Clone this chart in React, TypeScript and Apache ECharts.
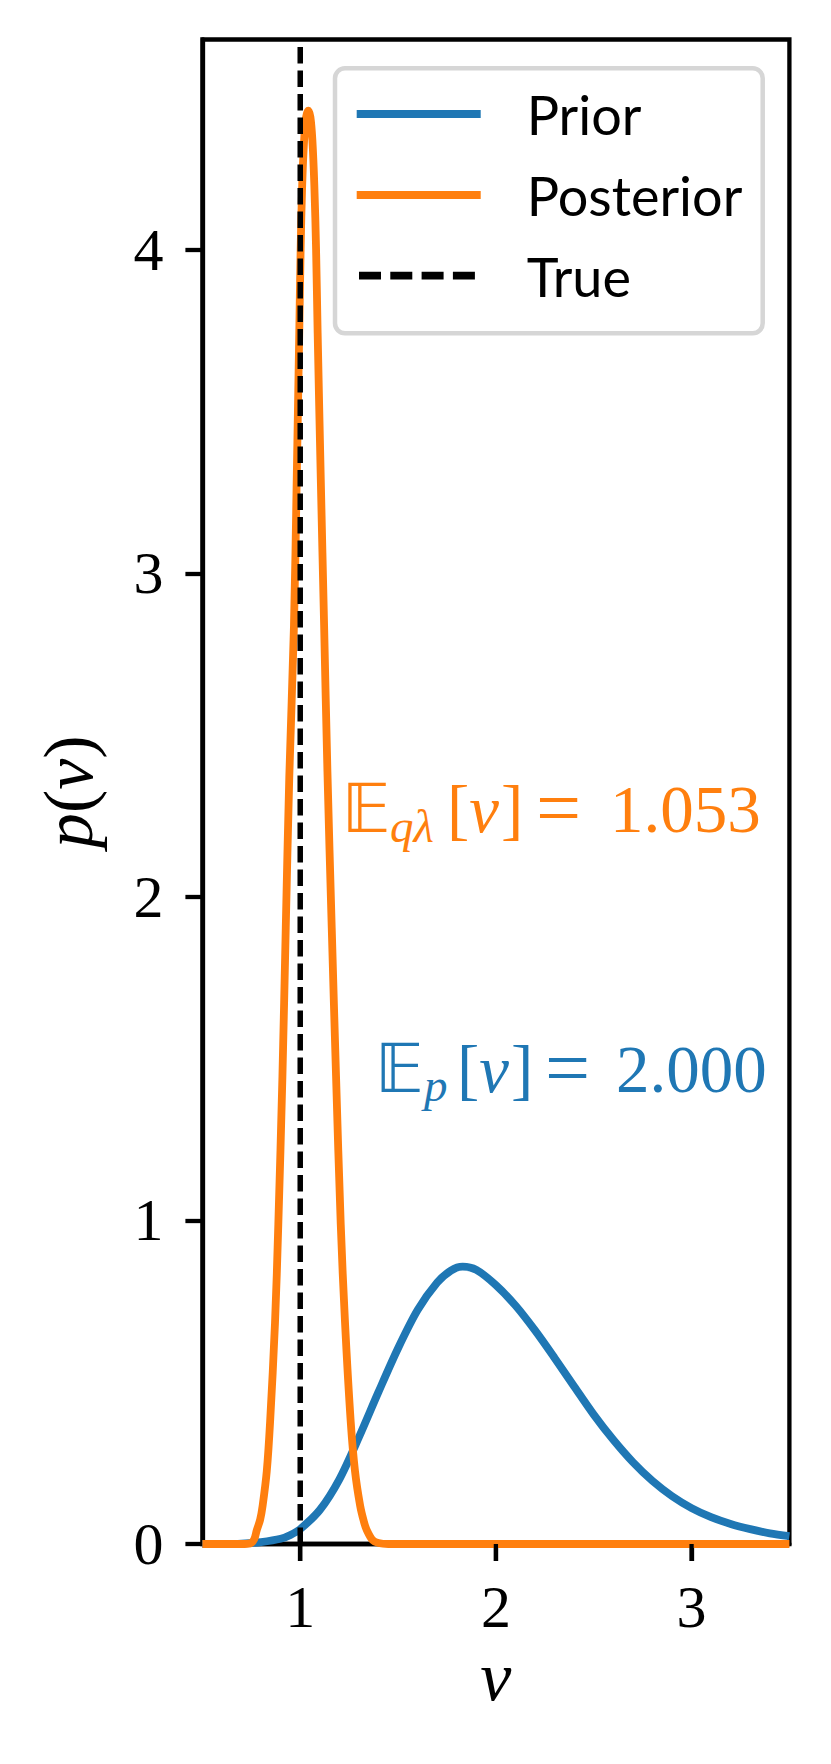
import React, { useEffect, useRef } from "react";
import * as echarts from "echarts";

// ---- data ----
const xRange = [0.5, 3.5];
const yRange = [0, 4.65];
const xTickValues = [1, 2, 3];
const yTickValues = [0, 1, 2, 3, 4];

const priorNu = [0.5, 0.6, 0.7, 0.8, 0.9, 0.95, 1.0, 1.1, 1.2, 1.3, 1.4, 1.5, 1.6, 1.7, 1.77, 1.83, 1.9, 2.0, 2.1, 2.2, 2.3, 2.4, 2.5, 2.6, 2.7, 2.8, 2.9, 3.0, 3.1, 3.2, 3.3, 3.4, 3.5];
const priorDensity = [0, 0, 0.001, 0.006, 0.016, 0.028, 0.046, 0.105, 0.2, 0.33, 0.47, 0.605, 0.723, 0.808, 0.845, 0.857, 0.847, 0.8, 0.737, 0.66, 0.575, 0.487, 0.4, 0.322, 0.253, 0.195, 0.148, 0.111, 0.083, 0.062, 0.046, 0.033, 0.024];

const posteriorNu = [0.5, 0.7, 0.745, 0.765, 0.778, 0.795, 0.808, 0.829, 0.846, 0.871, 0.888, 0.909, 0.926, 0.944, 0.968, 0.982, 0.995, 1.002, 1.01, 1.02, 1.03, 1.041, 1.052, 1.062, 1.072, 1.081, 1.089, 1.105, 1.122, 1.139, 1.161, 1.183, 1.207, 1.229, 1.258, 1.28, 1.306, 1.325, 1.34, 1.37, 1.4, 1.45, 3.5];
const posteriorDensity = [0, 0, 0.002, 0.015, 0.043, 0.075, 0.119, 0.225, 0.378, 0.683, 0.989, 1.446, 1.904, 2.37, 2.839, 3.291, 3.743, 4.0, 4.2, 4.34, 4.41, 4.43, 4.41, 4.34, 4.2, 4.0, 3.743, 3.291, 2.839, 2.387, 1.904, 1.446, 0.989, 0.683, 0.378, 0.225, 0.119, 0.07, 0.043, 0.012, 0.003, 0, 0];

const trueNu = 1;
const seriesNames = ["Prior", "Posterior", "True"];
const priorMeanText = "2.000";
const posteriorMeanText = "1.053";

const BLUE = "#1f77b4";
const ORANGE = "#ff7f0e";
const SERIF = "'Liberation Serif', 'DejaVu Serif', serif";
const SANS = "Lato, 'Noto Sans', sans-serif";
const BB = "'DejaVu Sans', 'DejaVu Serif', 'Noto Sans', sans-serif";
const CENTRAL = 0.3375; // em-box centre above baseline
const TICK_LEN = 17;
const LINE_W = 4.3;

function piece(text: string, x: number, baseline: number, size: number, color: string, family: string, italic = false) {
  return {
    type: "text",
    x,
    y: baseline - CENTRAL * size,
    z: 100,
    style: {
      text,
      fill: color,
      font: `${italic ? "italic " : ""}${size}px ${family}`,
      align: "left",
      verticalAlign: "middle",
    },
  };
}

function bracketNu(x: number, baseline: number, size: number, color: string) {
  return {
    type: "text",
    x,
    y: baseline - CENTRAL * size,
    z: 100,
    style: {
      text: "{r|[}{i|ν}{r|]}",
      fill: color,
      font: `${size}px ${SERIF}`,
      align: "left",
      verticalAlign: "middle",
      rich: {
        r: { fontFamily: SERIF, fontSize: size, fill: color, color },
        i: { fontFamily: SERIF, fontSize: size, fontStyle: "italic", fill: color, color, padding: [0, 2, 0, 0] },
      },
    },
  };
}

export default function App() {
  const ref = useRef<HTMLDivElement>(null);

  useEffect(() => {
    if (!ref.current) return;
    const chart = echarts.init(ref.current, undefined, { renderer: "svg" });

    const mainSize = 67;
    const subSize = 47;
    const oBase = 831.7;
    const bBase = 1091.7;

    const legendLineY = [114, 195, 275.7];
    const legendColors = [BLUE, ORANGE, "#000"];

    const graphic: any[] = [
      {
        type: "rect",
        z: 90,
        shape: { x: 335, y: 68.3, width: 427.7, height: 265, r: 10 },
        style: { fill: "rgba(255,255,255,0.8)", stroke: "#d6d6d6", lineWidth: 4.5 },
      },
      ...legendLineY.map((y, i) => ({
        type: "line",
        z: 95,
        shape: i === 2 ? { x1: 359, y1: y, x2: 475, y2: y } : { x1: 356.7, y1: y, x2: 480.7, y2: y },
        style: {
          stroke: legendColors[i],
          lineWidth: 7.8,
          lineDash: i === 2 ? [22, 9.3] : null,
          lineCap: "butt",
        },
      })),
      ...legendLineY.map((y, i) => ({
        type: "text",
        z: 95,
        x: 526.7,
        y: y + 0.5,
        style: {
          text: seriesNames[i],
          fill: "#000",
          font: `54px ${SANS}`,
          align: "left",
          verticalAlign: "middle",
        },
      })),
      piece("𝔼", 341.7, oBase, mainSize, ORANGE, BB),
      piece("qλ", 390, oBase + 10.5, subSize, ORANGE, SERIF, true),
      bracketNu(447, oBase, mainSize, ORANGE),
      piece("=", 536, oBase + 3, 80, ORANGE, SERIF),
      piece(posteriorMeanText, 610, oBase, mainSize, ORANGE, SERIF),
      piece("𝔼", 375, bBase, mainSize, BLUE, BB),
      piece("p", 424, bBase + 9.5, subSize, BLUE, SERIF, true),
      bracketNu(457, bBase, mainSize, BLUE),
      piece("=", 545, bBase + 3, 80, BLUE, SERIF),
      piece(priorMeanText, 616, bBase, mainSize, BLUE, SERIF),
    ];

    const black = "#000";

    const option: any = {
      animation: false,
      backgroundColor: "#fff",
      grid: {
        left: 202.4,
        top: 39.5,
        width: 587,
        height: 1504.5,
        show: true,
        borderColor: black,
        borderWidth: LINE_W,
      },
      xAxis: {
        type: "value",
        min: xRange[0],
        max: xRange[1],
        name: "ν",
        nameLocation: "middle",
        nameGap: 82,
        nameTextStyle: { fontFamily: SERIF, fontSize: 70, fontStyle: "italic", color: black },
        axisLine: { show: true, onZero: false, lineStyle: { color: black, width: LINE_W } },
        axisTick: { show: true, inside: false, length: TICK_LEN, lineStyle: { color: black, width: LINE_W }, customValues: xTickValues },
        axisLabel: { show: true, margin: 33, fontFamily: SERIF, fontSize: 60, color: black, customValues: xTickValues },
        splitLine: { show: false },
      },
      yAxis: {
        type: "value",
        min: yRange[0],
        max: yRange[1],
        name: "{i|p}{r|(}{i|ν}{r|)}",
        nameLocation: "middle",
        nameGap: 98.5,
        nameRotate: 90,
        nameTextStyle: {
          fontFamily: SERIF,
          fontSize: 70,
          color: black,
          rich: {
            i: { fontFamily: SERIF, fontSize: 70, fontStyle: "italic", color: black },
            r: { fontFamily: SERIF, fontSize: 70, color: black },
          },
        },
        axisLine: { show: true, onZero: false, lineStyle: { color: black, width: LINE_W } },
        axisTick: { show: true, inside: false, length: TICK_LEN, lineStyle: { color: black, width: LINE_W }, customValues: yTickValues },
        axisLabel: { show: true, margin: 39, fontFamily: SERIF, fontSize: 60, color: black, customValues: yTickValues },
        splitLine: { show: false },
      },
      series: [
        {
          type: "line",
          name: seriesNames[0],
          data: priorNu.map((x, i) => [x, priorDensity[i]]),
          symbol: "none",
          showSymbol: false,
          smooth: 0.3,
          clip: true,
          z: 2,
          lineStyle: { color: BLUE, width: 7.8, cap: "butt", join: "round" },
          itemStyle: { color: BLUE },
        },
        {
          type: "line",
          name: seriesNames[1],
          data: posteriorNu.map((x, i) => [x, posteriorDensity[i]]),
          symbol: "none",
          showSymbol: false,
          smooth: 0.35,
          clip: true,
          z: 3,
          lineStyle: { color: ORANGE, width: 7.8, cap: "butt", join: "round" },
          itemStyle: { color: ORANGE },
        },
        {
          type: "line",
          name: seriesNames[2],
          data: [
            [trueNu, yRange[0]],
            [trueNu, yRange[1]],
          ],
          symbol: "none",
          showSymbol: false,
          clip: true,
          z: 4,
          lineStyle: { color: black, width: 5.5, type: [16.5, 7], cap: "butt" },
          itemStyle: { color: black },
        },
      ],
      graphic,
    };

    chart.setOption(option);

    // x-axis tick marks as filled bars, positioned through the chart's own x scale
    const tickEls = xTickValues.map((v) => {
      const p = chart.convertToPixel({ xAxisIndex: 0, yAxisIndex: 0 }, [v, yRange[0]]) as number[];
      return {
        type: "rect",
        zlevel: 1,
        z: 1000,
        shape: { x: p[0] - LINE_W / 2, y: p[1], width: LINE_W, height: TICK_LEN },
        style: { fill: black, stroke: null },
      };
    });
    chart.setOption({ graphic: [...graphic, ...tickEls] });

    return () => chart.dispose();
  }, []);

  return (
    <div
      ref={ref}
      style={{ position: "absolute", left: 0, top: 0, width: 831, height: 1764, background: "#fff" }}
    />
  );
}
